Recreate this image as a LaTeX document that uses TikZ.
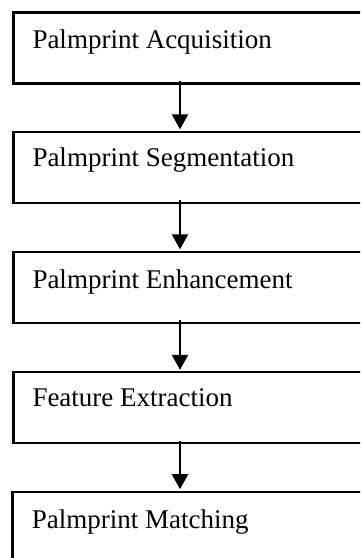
\documentclass[tikz,border=0pt]{standalone}
\usepackage{fontspec}
\setmainfont{Liberation Serif}
\usetikzlibrary{arrows.meta}
\begin{document}
\begin{tikzpicture}[x=1pt,y=-1pt,
  stagebox/.style={draw,line width=2.2pt,anchor=north west,outer sep=0pt,inner sep=0pt,minimum width=380pt,minimum height=71pt},
  stagetext/.style={anchor=base west,inner sep=0pt,outer sep=0pt,font=\fontsize{27}{32}\selectfont},
  flow/.style={line width=2.4pt,-{Triangle[width=16pt,length=15pt]},shorten >=2.5pt}]
\useasboundingbox (0,0) rectangle (360,558);
\clip (0,0) rectangle (360,558);
\node[stagebox] (b1) at (13.5,12.5) {};
\node[stagebox] (b2) at (13.5,131.8) {};
\node[stagebox] (b3) at (13.5,251.8) {};
\node[stagebox] (b4) at (13.5,372.3) {};
\node[stagebox] (b5) at (12.5,491.7) {};
\node[stagetext] (t1) at (32.5,48.3) {Palmprint Acquisition};
\node[stagetext] (t2) at (32.5,166.7) {Palmprint Segmentation};
\node[stagetext] (t3) at (32.5,288.3) {Palmprint Enhancement};
\node[stagetext] (t4) at (32.5,406.7) {Feature Extraction};
\node[stagetext] (t5) at (31.8,528.3) {Palmprint Matching};
\coordinate (a1) at (180,81);
\coordinate (a2) at (180,200.3);
\coordinate (a3) at (180,320.3);
\coordinate (a4) at (180,440.8);
\draw[flow] (a1) -- (a1 |- b2.north);
\draw[flow] (a2) -- (a2 |- b3.north);
\draw[flow] (a3) -- (a3 |- b4.north);
\draw[flow] (a4) -- (a4 |- b5.north);
\end{tikzpicture}
\end{document}
